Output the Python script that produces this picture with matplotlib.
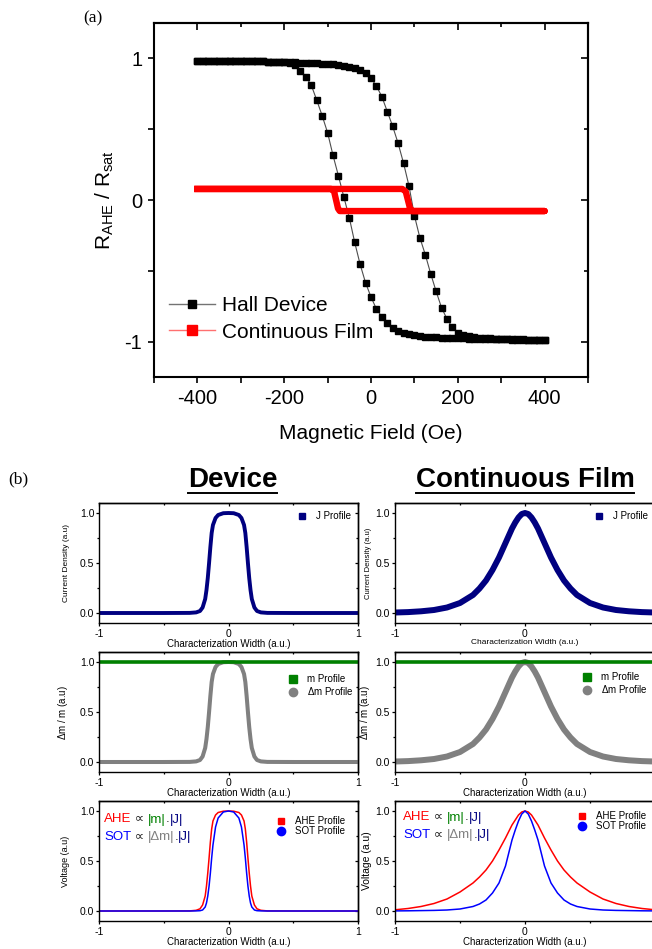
import numpy as np
import matplotlib
matplotlib.use('Agg')
import matplotlib.pyplot as plt
from matplotlib.lines import Line2D
from matplotlib.ticker import MultipleLocator, FormatStrFormatter, FuncFormatter

plt.rcParams['font.family'] = ['Liberation Sans', 'DejaVu Sans']
plt.rcParams['mathtext.fontset'] = 'custom'
plt.rcParams['mathtext.rm'] = 'Liberation Sans'
plt.rcParams['mathtext.it'] = 'Liberation Sans:italic'
plt.rcParams['axes.unicode_minus'] = False

W, H = 652, 949

# ---------------- (a) normalised AHE loops ----------------
field = np.linspace(-400, 400, 65)   # sweep grid, 12.5 Oe steps

# sweep -400 -> +400 (switches at positive field)
hall_up = [0.985, 0.985, 0.985, 0.984, 0.984, 0.983, 0.983, 0.982, 0.982,
           0.981, 0.980, 0.980, 0.979, 0.978, 0.977, 0.976, 0.975, 0.974,
           0.972, 0.971, 0.969, 0.967, 0.965, 0.963, 0.960, 0.957, 0.953,
           0.948, 0.940, 0.930, 0.918, 0.900, 0.860, 0.805, 0.730, 0.625,
           0.520, 0.400, 0.260, 0.100, -0.110, -0.265, -0.385, -0.520,
           -0.645, -0.760, -0.840, -0.900, -0.940, -0.955, -0.963, -0.968,
           -0.972, -0.975, -0.977, -0.979, -0.981, -0.982, -0.983, -0.984,
           -0.985, -0.986, -0.987, -0.988, -0.988]
# sweep +400 -> -400, listed on the same increasing grid
hall_back = [0.985, 0.985, 0.985, 0.984, 0.984, 0.983, 0.983, 0.982, 0.982,
             0.981, 0.980, 0.980, 0.979, 0.978, 0.977, 0.976, 0.975, 0.968,
             0.950, 0.910, 0.870, 0.810, 0.705, 0.595, 0.475, 0.315, 0.170,
             0.020, -0.125, -0.300, -0.455, -0.585, -0.685, -0.770, -0.825,
             -0.870, -0.905, -0.928, -0.940, -0.948, -0.955, -0.960, -0.964,
             -0.967, -0.970, -0.972, -0.974, -0.976, -0.977, -0.978, -0.979,
             -0.980, -0.981, -0.982, -0.983, -0.984, -0.985, -0.985, -0.986,
             -0.986, -0.987, -0.987, -0.988, -0.988, -0.988]

film_up_x = [-400, 72, 80, 90, 95, 400]
film_up_y = [0.078, 0.078, 0.06, -0.06, -0.078, -0.078]
film_back_x = [400, -72, -76, -85, -92, -400]
film_back_y = [-0.078, -0.078, -0.06, 0.06, 0.078, 0.078]

# ---------------- (b) simulated profiles (half, x >= 0) ----------------
dev_x = [0, 0.04, 0.08, 0.10, 0.12, 0.13, 0.14, 0.15, 0.16, 0.17, 0.18,
         0.20, 0.22, 0.25, 0.30, 0.50, 1.00]
dev_j = [1.0, 0.998, 0.98, 0.95, 0.88, 0.80, 0.66, 0.50, 0.35, 0.23, 0.14,
         0.055, 0.02, 0.006, 0.001, 0.0, 0.0]
dev_dm = [1.0, 0.998, 0.98, 0.95, 0.88, 0.80, 0.66, 0.50, 0.35, 0.23, 0.14,
          0.055, 0.02, 0.006, 0.001, 0.0, 0.0]
dev_ahe = [1.0, 0.998, 0.985, 0.96, 0.90, 0.82, 0.69, 0.53, 0.38, 0.25, 0.15,
           0.06, 0.022, 0.007, 0.001, 0.0, 0.0]
dev_sot = [1.0, 0.99, 0.93, 0.84, 0.66, 0.53, 0.38, 0.25, 0.15, 0.08, 0.04,
           0.01, 0.003, 0.001, 0.0, 0.0, 0.0]

film_x = [0, 0.025, 0.05, 0.075, 0.10, 0.15, 0.20, 0.25, 0.30, 0.35, 0.40,
          0.50, 0.60, 0.70, 0.80, 0.90, 1.00]
film_j = [1.0, 0.99, 0.955, 0.905, 0.845, 0.70, 0.555, 0.43, 0.325, 0.245,
          0.18, 0.10, 0.055, 0.03, 0.017, 0.009, 0.005]
film_dm = [1.0, 0.99, 0.955, 0.905, 0.845, 0.70, 0.555, 0.43, 0.325, 0.245,
           0.18, 0.10, 0.055, 0.03, 0.017, 0.009, 0.005]
film_ahe = [1.0, 0.99, 0.96, 0.91, 0.86, 0.73, 0.61, 0.50, 0.41, 0.34, 0.28,
            0.19, 0.12, 0.075, 0.045, 0.025, 0.012]
film_sot = [1.0, 0.97, 0.90, 0.81, 0.71, 0.45, 0.28, 0.18, 0.11, 0.07, 0.045,
            0.02, 0.01, 0.006, 0.004, 0.002, 0.001]

m_x = [-1, 1]
m_y = [1.0, 1.0]

NAVY, GREEN, GRAY = '#000080', '#008000', '#808080'


def full(xh, yh):
    # profiles are symmetric about 0
    xh, yh = np.asarray(xh), np.asarray(yh)
    return np.r_[-xh[::-1], xh[1:]], np.r_[yh[::-1], yh[1:]]


def px_box(l, t, r, b):
    return [l / W, 1 - b / H, (r - l) / W, (b - t) / H]


def mirror_ticks(ax, xmaj, xmin, ymaj, ymin, lmaj, lmin, width, lw_sp):
    # top/right ticks point inwards, bottom/left outwards
    sx = ax.secondary_xaxis('top')
    sy = ax.secondary_yaxis('right')
    sx.xaxis.set_major_locator(MultipleLocator(xmaj))
    sx.xaxis.set_minor_locator(MultipleLocator(xmin))
    sy.yaxis.set_major_locator(MultipleLocator(ymaj))
    sy.yaxis.set_minor_locator(MultipleLocator(ymin))
    sx.tick_params(which='both', direction='in', labeltop=False, width=width)
    sy.tick_params(which='both', direction='in', labelright=False, width=width)
    sx.tick_params(which='major', length=lmaj)
    sx.tick_params(which='minor', length=lmin)
    sy.tick_params(which='major', length=lmaj)
    sy.tick_params(which='minor', length=lmin)
    sx.spines['top'].set_linewidth(lw_sp)
    sy.spines['right'].set_linewidth(lw_sp)


fig = plt.figure(figsize=(W / 100, H / 100), dpi=100)

# ---------------- panel (a) ----------------
ax = fig.add_axes(px_box(154, 23, 588, 377))
ax.plot(np.r_[field, field[::-1]], np.r_[hall_up, hall_back[::-1]],
        color='0.3', lw=0.8, marker='s', ms=4.6, mfc='k', mec='k')
ax.plot(film_up_x + film_back_x, film_up_y + film_back_y, color='red',
        lw=4.6, solid_capstyle='projecting', solid_joinstyle='round')
ax.set_xlim(-500, 500)
ax.set_ylim(-1.25, 1.25)
ax.xaxis.set_major_locator(MultipleLocator(200))
ax.xaxis.set_minor_locator(MultipleLocator(100))
ax.yaxis.set_major_locator(MultipleLocator(1))
ax.yaxis.set_minor_locator(MultipleLocator(0.5))
ax.tick_params(which='both', direction='out', width=1.2, labelsize=14.5,
               pad=4)
ax.tick_params(which='major', length=4.5)
ax.tick_params(which='minor', length=4.5)
for sp in ax.spines.values():
    sp.set_linewidth(1.5)
mirror_ticks(ax, 200, 100, 1, 0.5, 5, 3, 1.2, 1.5)
ax.set_xlabel('Magnetic Field (Oe)', fontsize=15, labelpad=12)
ax.set_ylabel(r'R$_{\rm AHE}$ / R$_{\rm sat}$', fontsize=15, labelpad=6)

h_hall = Line2D([], [], color='0.45', lw=1, marker='s', ms=6, mfc='k', mec='k')
h_film = Line2D([], [], color='#ff7070', lw=1, marker='s', ms=6.5,
                mfc='red', mec='red')
ax.legend([h_hall, h_film], ['Hall Device', 'Continuous Film'],
          loc='upper left', bbox_to_anchor=(169 / W, 1 - 296 / H),
          bbox_transform=fig.transFigure, frameon=False, fontsize=15,
          handlelength=2.2, handletextpad=0.35, borderpad=0,
          borderaxespad=0, labelspacing=0.36, numpoints=1)

fig.text(83 / W, 1 - 22 / H, '(a)', family='Liberation Serif', fontsize=12.5,
         va='baseline')
fig.text(8 / W, 1 - 483 / H, '(b)', family='Liberation Serif', fontsize=12.5,
         va='baseline')

# ---------------- panel (b) ----------------
cols = [(99, 358), (395, 655)]
rows = [(503, 623), (652, 772), (801, 921)]
axs = [[fig.add_axes(px_box(c[0], r[0], c[1], r[1])) for c in cols]
       for r in rows]

# the right-hand column runs past the edge of the picture: no '1' label there
edge_fmt = FuncFormatter(lambda v, p: '' if v > 0.5 else '%d' % v)

for i, row in enumerate(axs):
    for j, a in enumerate(row):
        a.set_xlim(-1, 1)
        a.set_ylim(-0.1, 1.1)
        a.xaxis.set_major_locator(MultipleLocator(1))
        a.xaxis.set_minor_locator(MultipleLocator(0.5))
        a.yaxis.set_major_locator(MultipleLocator(0.5))
        a.yaxis.set_minor_locator(MultipleLocator(0.25))
        a.yaxis.set_major_formatter(FormatStrFormatter('%.1f'))
        if j == 1:
            a.xaxis.set_major_formatter(edge_fmt)
        a.tick_params(which='both', direction='out', width=0.9,
                      labelsize=7.5, pad=1.5)
        a.tick_params(axis='y', pad=0.8 if j == 0 else 1.2)
        a.tick_params(which='major', length=2.5)
        a.tick_params(which='minor', length=1.5)
        for sp in a.spines.values():
            sp.set_linewidth(1.0)
        mirror_ticks(a, 1, 0.5, 0.5, 0.25, 2.5, 1.5, 0.9, 1.0)
        a.set_xlabel('Characterization Width (a.u.)',
                     fontsize=6 if (i == 0 and j == 1) else 7, labelpad=0.5)

# row 1: current density
x, y = full(dev_x, dev_j)
axs[0][0].plot(x, y, color=NAVY, lw=2.8)
x, y = full(film_x, film_j)
axs[0][1].plot(x, y, color=NAVY, lw=4.3)
axs[0][0].set_ylabel('Current Density (a.u)', fontsize=6, labelpad=7)
axs[0][1].set_ylabel('Current Density (a.u)', fontsize=5.5, labelpad=2.5)

# row 2: magnetisation
x, y = full(dev_x, dev_dm)
axs[1][0].plot(x, y, color=GRAY, lw=2.9)
axs[1][0].plot(m_x, m_y, color=GREEN, lw=2.6)
x, y = full(film_x, film_dm)
axs[1][1].plot(x, y, color=GRAY, lw=4.3)
axs[1][1].plot(m_x, m_y, color=GREEN, lw=2.6)
axs[1][0].set_ylabel(r'$\Delta$m / m (a.u)', fontsize=7, labelpad=7)
axs[1][1].set_ylabel(r'$\Delta$m / m (a.u)', fontsize=7, labelpad=2.5)

# row 3: voltage
for a, xs, ahe, sot in ((axs[2][0], dev_x, dev_ahe, dev_sot),
                        (axs[2][1], film_x, film_ahe, film_sot)):
    x, y = full(xs, ahe)
    a.plot(x, y, color='red', lw=1.1)
    x, y = full(xs, sot)
    a.plot(x, y, color='blue', lw=1.1)
axs[2][0].set_ylabel('Voltage (a.u)', fontsize=6.5, labelpad=7)
axs[2][1].set_ylabel('Voltage (a.u)', fontsize=7.5, labelpad=2.5)


def leg(a, handles, labels, x_px, y_px, ls):
    a.legend(handles, labels, loc='upper left',
             bbox_to_anchor=(x_px / W, 1 - y_px / H),
             bbox_transform=fig.transFigure, frameon=False, fontsize=7,
             handlelength=1.0, handletextpad=1.0, borderpad=0,
             borderaxespad=0, labelspacing=ls, numpoints=1)


hj = Line2D([], [], ls='none', marker='s', ms=5, color=NAVY)
hm = Line2D([], [], ls='none', marker='s', ms=5.5, color=GREEN)
hd = Line2D([], [], ls='none', marker='o', ms=6, color=GRAY)
ha = Line2D([], [], ls='none', marker='s', ms=5, color='red')
hs = Line2D([], [], ls='none', marker='o', ms=6, color='blue')
leg(axs[0][0], [hj], ['J Profile'], 297, 511, 0.2)
leg(axs[0][1], [hj], ['J Profile'], 594, 511, 0.2)
leg(axs[1][0], [hm, hd], ['m Profile', r'$\Delta$m Profile'], 288, 674, 0.15)
leg(axs[1][1], [hm, hd], ['m Profile', r'$\Delta$m Profile'], 582, 672, 0.15)
leg(axs[2][0], [ha, hs], ['AHE Profile', 'SOT Profile'], 276, 816, 0.05)
leg(axs[2][1], [ha, hs], ['AHE Profile', 'SOT Profile'], 577, 811, 0.05)

ahe_parts = [('AHE', 'red'), (' \u221d ', '#202020'), ('|m|', GREEN),
             ('.', '#202020'), ('|J|', NAVY)]
sot_parts = [('SOT', 'blue'), (' \u221d ', '#202020'), ('|\u0394m|', GRAY),
             ('.', '#202020'), ('|J|', NAVY)]


def chain(x_px, base_px, parts, fs=9.5):
    # multi-coloured formula: each piece starts where the previous one ends
    r = fig.canvas.get_renderer()
    x = x_px
    for s, c in parts:
        t = fig.text(x / W, 1 - base_px / H, s, color=c, fontsize=fs,
                     va='baseline', ha='left')
        bb = t.get_window_extent(renderer=r)
        x += bb.width


fig.canvas.draw()
chain(104, 822.5, ahe_parts)
chain(104, 840, sot_parts)
chain(403, 820.5, ahe_parts)
chain(403, 838, sot_parts)

# titles with underline
r = fig.canvas.get_renderer()
for cx, label in ((232.5, 'Device'), (525, 'Continuous Film')):
    t = fig.text(cx / W, 1 - 487 / H, label, ha='center', va='baseline',
                 fontsize=20, fontweight='bold')
    bb = t.get_window_extent(renderer=r)
    fig.add_artist(Line2D([bb.x0 / W, bb.x1 / W], [1 - 492.5 / H] * 2,
                          transform=fig.transFigure, color='k', lw=1.4))

fig.savefig('out.png', dpi=100)
